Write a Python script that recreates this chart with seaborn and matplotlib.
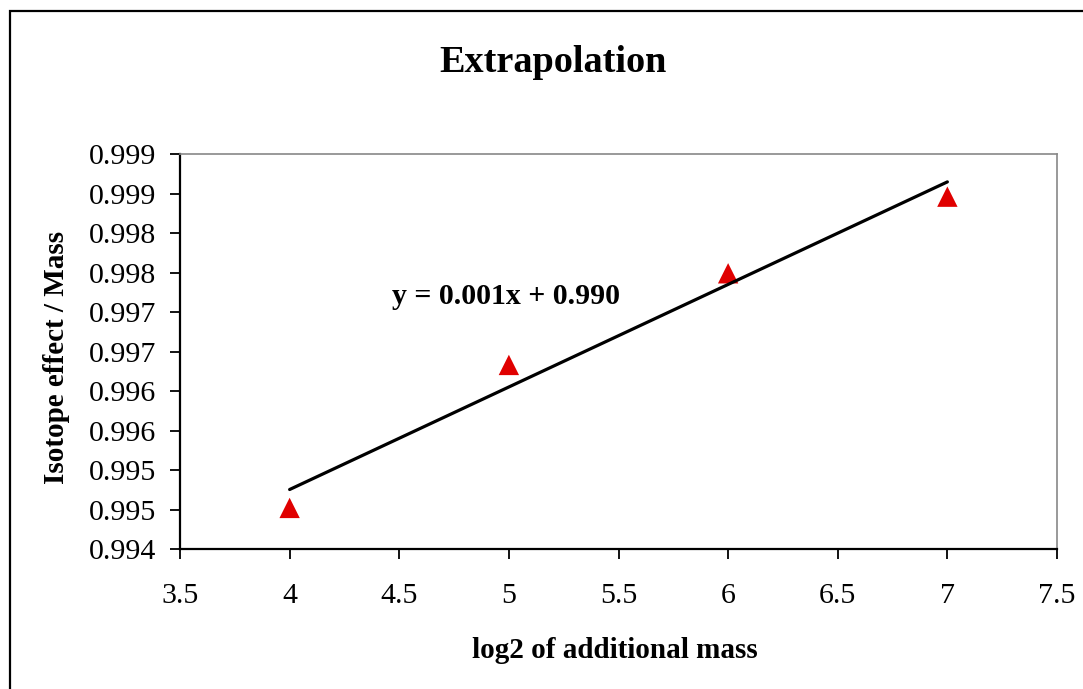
import numpy as np
import pandas as pd
import matplotlib
matplotlib.use("Agg")
import matplotlib.pyplot as plt
import matplotlib.patches as mpatches
import seaborn as sns

# Data
log2_mass = [4, 5, 6, 7]
isotope_effect = [0.99452, 0.99633, 0.99749, 0.99846]
xticks = [3.5, 4, 4.5, 5, 5.5, 6, 6.5, 7, 7.5]
xtick_labels = ["3.5", "4", "4.5", "5", "5.5", "6", "6.5", "7", "7.5"]
yticks = [0.994, 0.9945, 0.995, 0.9955, 0.996, 0.9965, 0.997, 0.9975, 0.998, 0.9985, 0.999]
ytick_labels = ["0.994", "0.995", "0.995", "0.996", "0.996", "0.997", "0.997",
                "0.998", "0.998", "0.999", "0.999"]
title = "Extrapolation"
xlabel = "log2 of additional mass"
ylabel = "Isotope effect / Mass"
equation = "y = 0.001x + 0.990"

sns.set_style("ticks")
plt.rcParams['font.family'] = ['Liberation Serif', 'DejaVu Serif']
plt.rcParams['text.color'] = 'black'
plt.rcParams['xtick.color'] = 'black'
plt.rcParams['ytick.color'] = 'black'

W, H = 1083, 689
fig = plt.figure(figsize=(W / 100, H / 100), dpi=100)
ax = fig.add_axes([180 / W, 1 - 549 / H, (1057 - 180) / W, (549 - 154) / H])

df = pd.DataFrame({"x": log2_mass, "y": isotope_effect})
coef = np.polyfit(df["x"], df["y"], 1)
fit = pd.DataFrame({"x": [min(log2_mass), max(log2_mass)]})
fit["y"] = np.polyval(coef, fit["x"])

sns.scatterplot(data=df, x="x", y="y", ax=ax, marker="^", s=215, color="#E00000",
                edgecolor="none", linewidth=0, zorder=2)
sns.lineplot(data=fit, x="x", y="y", ax=ax, color="black", lw=2.3, zorder=3)

ax.set_xlim(3.5, 7.5)
ax.set_ylim(0.994, 0.999)
ax.set_xticks(xticks)
ax.set_xticklabels(xtick_labels)
ax.set_yticks(yticks)
ax.set_yticklabels(ytick_labels)
ax.set_xlabel("")
ax.set_ylabel("")
ax.tick_params(axis="both", direction="out", length=7.2, width=1.3, color="black",
               labelsize=21.5, labelcolor="black")
ax.tick_params(axis="y", pad=10)
ax.tick_params(axis="x", pad=17.5)

for side in ["left", "bottom"]:
    ax.spines[side].set_color("black")
    ax.spines[side].set_linewidth(1.6)
for side in ["top", "right"]:
    ax.spines[side].set_visible(True)
    ax.spines[side].set_color("#888888")
    ax.spines[side].set_linewidth(1.2)
ax.set_facecolor("white")

fig.text(392 / W, 1 - 296 / H, equation, fontsize=21.5, fontweight="bold",
         ha="left", va="center", color="black")
fig.text(553 / W, 1 - 62 / H, title, fontsize=27.5, fontweight="bold",
         ha="center", va="center", color="black")
fig.text(615 / W, 1 - 650 / H, xlabel, fontsize=21, fontweight="bold",
         ha="center", va="center", color="black")
fig.text(57 / W, 1 - 357 / H, ylabel, fontsize=21, fontweight="bold",
         ha="center", va="center", rotation=90, color="black")

border = mpatches.Rectangle((10 / W, -0.05), 1.05, 1 - 11 / H + 0.05,
                            transform=fig.transFigure, fill=False,
                            edgecolor="black", linewidth=1.6)
fig.patches.append(border)

fig.savefig("out.png", dpi=100, facecolor="white")
